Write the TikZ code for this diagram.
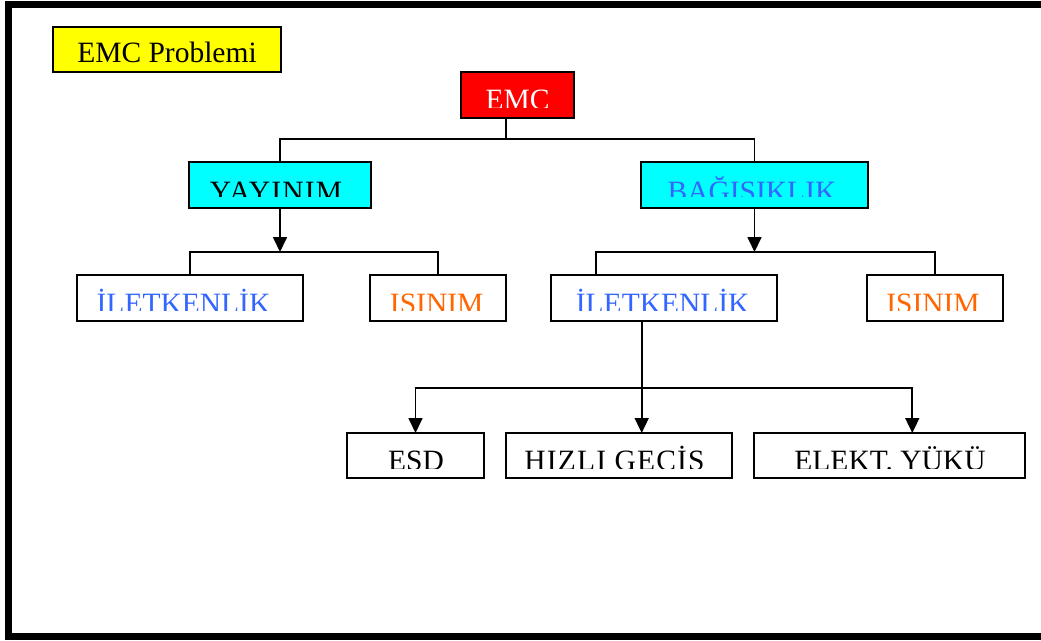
\documentclass[tikz,border=0pt]{standalone}
\usepackage{fontspec}
\setmainfont{Liberation Serif}
\usetikzlibrary{arrows.meta}
\definecolor{ybox}{HTML}{FFFF00}
\definecolor{rbox}{HTML}{FF0000}
\definecolor{cbox}{HTML}{00FFFF}
\definecolor{btext}{HTML}{3366FF}
\definecolor{otext}{HTML}{FF6600}
\newcommand{\cliptext}[5]{%
  \begin{scope}
    \clip (#1.north west) rectangle (#1.east |- 0,#2);
    \node[anchor=base,lbl,#4] (#1-t) at (#1.center |- 0,#3) {#5};
  \end{scope}}
\tikzset{
  boxst/.style={draw=black, line width=1.7pt, inner sep=0pt, outer sep=0pt, anchor=north west, rectangle},
  lbl/.style={inner sep=0pt, outer sep=0pt, font=\fontsize{29.5}{32}\selectfont},
  conn/.style={line width=1.7pt},
  arr/.style={line width=1.7pt, -{Triangle[width=14pt,length=15pt]}},
}
\begin{document}
\begin{tikzpicture}[x=1pt,y=1pt]
\useasboundingbox (0,0) rectangle (1041,-640);
\clip (0,0) rectangle (1041,-640);
\fill[white] (0,0) rectangle (1041,-640);
% frame
\draw[line width=7.3pt] (8.5,-4.5) rectangle (1080,-636.5);
% boxes
\node[boxst, fill=ybox, minimum width=228pt, minimum height=45pt] (prob) at (53,-27) {};
\node[boxst, fill=rbox, minimum width=113pt, minimum height=46pt] (emc) at (461,-72) {};
\node[boxst, fill=cbox, minimum width=182pt, minimum height=46pt] (yay) at (189,-162) {};
\node[boxst, fill=cbox, minimum width=227pt, minimum height=46pt] (bag) at (641,-162) {};
\node[boxst, fill=white, minimum width=226pt, minimum height=46pt] (il1) at (77,-275) {};
\node[boxst, fill=white, minimum width=136pt, minimum height=46pt] (is1) at (370,-275) {};
\node[boxst, fill=white, minimum width=226pt, minimum height=46pt] (il2) at (551,-275) {};
\node[boxst, fill=white, minimum width=136pt, minimum height=46pt] (is2) at (867,-275) {};
\node[boxst, fill=white, minimum width=137pt, minimum height=45pt] (esd) at (347,-433) {};
\node[boxst, fill=white, minimum width=226pt, minimum height=45pt] (hiz) at (506,-433) {};
\node[boxst, fill=white, minimum width=271pt, minimum height=45pt] (ele) at (754,-433) {};
% texts (clipped as in the original)
\cliptext{prob}{-63.3}{-62.8}{black}{EMC Problemi}
\cliptext{emc}{-107.8}{-109}{white}{EMC}
\cliptext{yay}{-196.8}{-201.3}{black,xshift=-4pt}{\addfontfeatures{LetterSpace=4}YAYINIM}
\cliptext{bag}{-196.8}{-201.3}{btext,xshift=-2.5pt}{BAĞISIKLIK}
\cliptext{il1}{-310}{-313}{btext,xshift=-6.5pt}{İLETKENLİK}
\cliptext{is1}{-310}{-313}{otext,xshift=-1.3pt}{ISINIM}
\cliptext{il2}{-310}{-313}{btext,xshift=-1.3pt}{İLETKENLİK}
\cliptext{is2}{-310}{-313}{otext,xshift=-2pt}{ISINIM}
\cliptext{esd}{-468.3}{-470.5}{black,xshift=0.5pt}{ESD}
\cliptext{hiz}{-468.3}{-470.5}{black,xshift=-4.5pt}{\addfontfeatures{LetterSpace=4}HIZLI GEÇİŞ}
\cliptext{ele}{-468.3}{-470.5}{black,xshift=0.5pt}{ELEKT. YÜKÜ}
% connectors
\coordinate (e0) at ([xshift=-11.5pt]emc.south);
\draw[conn] (e0) -- (e0 |- 0,-139.3);
\draw[conn] (yay.north) |- (bag.north |- 0,-139.3) -- (bag.north);
\draw[arr] (yay.south) -- (yay.south |- 0,-252);
\draw[conn] (il1.north) |- (is1.north |- 0,-252) -- (is1.north);
\draw[arr] (bag.south) -- (bag.south |- 0,-252);
\coordinate (i2n) at ([xshift=-68pt]il2.north);
\draw[conn] (i2n) |- (is2.north |- 0,-252) -- (is2.north);
\coordinate (i2s) at ([xshift=-22.3pt]il2.south);
\draw[arr] (i2s) -- (i2s |- hiz.north);
\draw[arr] (i2s |- 0,-388.3) -| (esd.north);
\draw[arr] (i2s |- 0,-388.3) -| ([xshift=22.8pt]ele.north);
\end{tikzpicture}
\end{document}
